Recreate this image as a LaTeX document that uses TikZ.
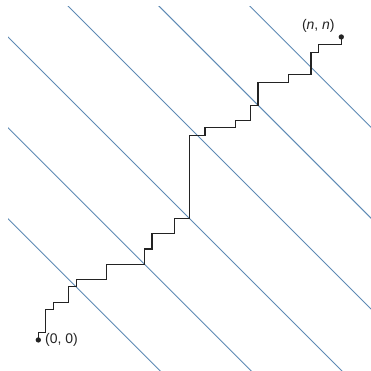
\documentclass[tikz,border=0pt]{standalone}
\usepackage{fontspec}
\setmainfont{Liberation Sans}
\definecolor{diagblue}{RGB}{94,138,180}
\definecolor{pathgray}{RGB}{35,35,35}
\begin{document}
\begin{tikzpicture}[x=0.2cm,y=0.2cm,
  diag/.style={draw=diagblue,line width=0.7pt},
  lattice/.style={draw=pathgray,line width=0.85pt,line join=miter},
  enddot/.style={circle,fill=pathgray,inner sep=0pt,minimum size=4pt},
  lab/.style={font=\fontsize{10.5}{12}\selectfont,text=pathgray,inner sep=0pt}]
\useasboundingbox (-5.06,-4.09) rectangle (43.92,44.88);
\begin{scope}
  \clip (-4,-5) rectangle (45,44);
  \foreach \k in {1,...,6}{
    \draw[diag] ({12*\k-50},50) -- ({12*\k+10},-10);
  }
\end{scope}
\node[enddot] (s) at (0,0) {};
\node[enddot] (e) at (40,40) {};
\draw[lattice] (s.center) -- (0,1) -- (1,1) -- (1,4) -- (2,4) -- (2,5) -- (4,5) -- (4,7)
  -- (5,7) -- (5,8) -- (9,8) -- (9,10) -- (14,10) -- (14,12) -- (15,12) -- (15,14)
  -- (18,14) -- (18,16) -- (20,16) -- (20,27) -- (22,27) -- (22,28) -- (26,28)
  -- (26,29) -- (28,29) -- (28,31) -- (29,31) -- (29,34) -- (33,34) -- (33,35)
  -- (36,35) -- (36,38) -- (37,38) -- (37,39) -- (40,39) -- (e.center);
\node[lab,anchor=west] (sl) at ([xshift=5pt]s.center) {(0, 0)};
\node[lab,anchor=south east] (el) at ([xshift=-4.8pt,yshift=3.3pt]e.center) {(\textit{n}, \textit{n})};
\end{tikzpicture}
\end{document}
